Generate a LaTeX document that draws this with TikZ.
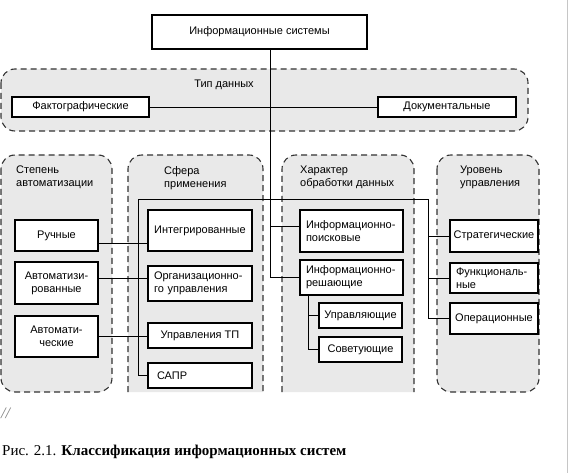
\documentclass[tikz,border=0pt]{standalone}
\usepackage{fontspec}
\setmainfont{Liberation Sans}
\newfontfamily\capfont{Liberation Serif}

\tikzset{
  box/.style={draw, line width=1.1pt, fill=white, align=center, inner sep=1pt,
    font=\fontsize{11}{13}\selectfont},
  lbox/.style={box, align=left, inner xsep=6pt, text width=#1},
  panel/.style={fill=gray!17, draw=black!80, line width=1.1pt,
    dash pattern=on 6pt off 4pt, rounded corners=14pt},
  link/.style={line width=0.8pt},
  title/.style={align=left, anchor=north west, inner sep=0pt,
    font=\fontsize{11}{13}\selectfont}
}

\begin{document}
\begin{tikzpicture}[x=1pt,y=-1pt]
        \useasboundingbox (0,0) rectangle (578,473);
        \draw[gray!45, line width=1pt] (567,0) -- (567,473);
        % panels
        \draw[panel] (1,69) rectangle (528,131);
        \draw[panel] (1,155) rectangle (112,392);
        \fill[gray!17, rounded corners=14pt] (128,392) -- (128,155) -- (263,155) -- (263,392);
        \draw[panel, fill=none] (128,392) -- (128,155) -- (263,155) -- (263,392);
        \fill[gray!17, rounded corners=14pt] (282,392) -- (282,155) -- (414,155) -- (414,392);
        \draw[panel, fill=none] (282,392) -- (282,155) -- (414,155) -- (414,392);
        \draw[panel] (437,155) rectangle (539,392);
        \node[title, anchor=center] (tipT) at (224,85) {Тип данных};
        \node[title] (p1T) at (16,166) {Степень\\автоматизации};
        \node[title] (p2T) at (164,166) {Сфера\\применения};
        \node[title] (p3T) at (300,166) {Характер\\обработки данных};
        \node[title] (p4T) at (460,166) {Уровень\\управления};
        % boxes
        \node[box, minimum width=215pt, minimum height=34pt] (is) at (259.5,32) {Информационные системы};
        \node[box, minimum width=137pt, minimum height=20pt] (fakt) at (80.5,107) {Фактографические};
        \node[box, minimum width=138pt, minimum height=20pt] (dok) at (447,107) {Документальные};
        \node[box, minimum width=83pt, minimum height=31pt] (ruch) at (56.5,235.5) {Ручные};
        \node[box, minimum width=83pt, minimum height=42pt] (avtz) at (56.5,283) {Автоматизи-\\рованные};
        \node[box, minimum width=83pt, minimum height=41pt] (avtm) at (56.5,336.5) {Автомати-\\ческие};
        \node[box, minimum width=104pt, minimum height=41pt] (integr) at (200,230.5) {Интегрированные};
        \node[lbox=92pt, minimum height=35pt] (org) at (200,283.5) {Организационно-\\го управления};
        \node[box, minimum width=104pt, minimum height=25pt] (uptp) at (200,335.5) {Управления ТП};
        \node[lbox=92pt, minimum height=25pt] (sapr) at (200,375.5) {\hspace{3pt}САПР};
        \node[lbox=91pt, minimum height=42pt] (poisk) at (351.5,231) {Информационно-\\поисковые};
        \node[lbox=91pt, minimum height=35pt] (resh) at (351.5,277.5) {Информационно-\\решающие};
        \node[box, minimum width=83pt, minimum height=25pt] (uprav) at (360.5,315.5) {Управляющие};
        \node[box, minimum width=83pt, minimum height=25pt] (sovet) at (360.5,349.5) {Советующие};
        \node[box, minimum width=88pt, minimum height=32pt] (strat) at (494,236) {Стратегические};
        \node[lbox=76pt, minimum height=30pt] (funk) at (494,278) {Функциональ-\\ные};
        \node[box, minimum width=88pt, minimum height=31pt] (oper) at (494,318.5) {Операционные};
        % connectors
        \coordinate (trunk) at (270,107);
        \coordinate (busL) at (138,199);
        \coordinate (busR) at (428,199);
        \coordinate (rtree) at (308,295);
        \draw[link] (fakt) -- (dok);
        \draw[link] (is.south -| trunk) |- (resh.west);
        \draw[link] ([yshift=5pt]poisk.west -| trunk) -- ([yshift=5pt]poisk.west);
        \draw[link] (sapr.west) -| (busL) -- (busR) |- (oper.west);
        \draw[link] (busR |- strat.west) -- (strat.west);
        \draw[link] (busR |- funk.west) -- (funk.west);
        \draw[link] ([yshift=-7.5pt]ruch.east) -- ([yshift=-7.5pt]ruch.east -| integr.west);
        \draw[link] ([yshift=5pt]avtz.east) -- ([yshift=5pt]avtz.east -| org.west);
        \draw[link] (avtm.east) -- (avtm.east -| uptp.west);
        \draw[link] (rtree |- resh.south) |- (sovet.west);
        \draw[link] (rtree |- uprav.west) -- (uprav.west);
        % caption
        \node[anchor=west, inner sep=0pt, gray, font=\capfont\itshape\fontsize{16}{18}\selectfont] (sl) at (1,413) {//};
        \node[anchor=west, inner sep=0pt, font=\capfont\fontsize{15}{18}\selectfont] (cap) at (2,452)
          {Рис. 2.1. \textbf{Классификация информационных систем}};
    \end{tikzpicture}
\end{document}
